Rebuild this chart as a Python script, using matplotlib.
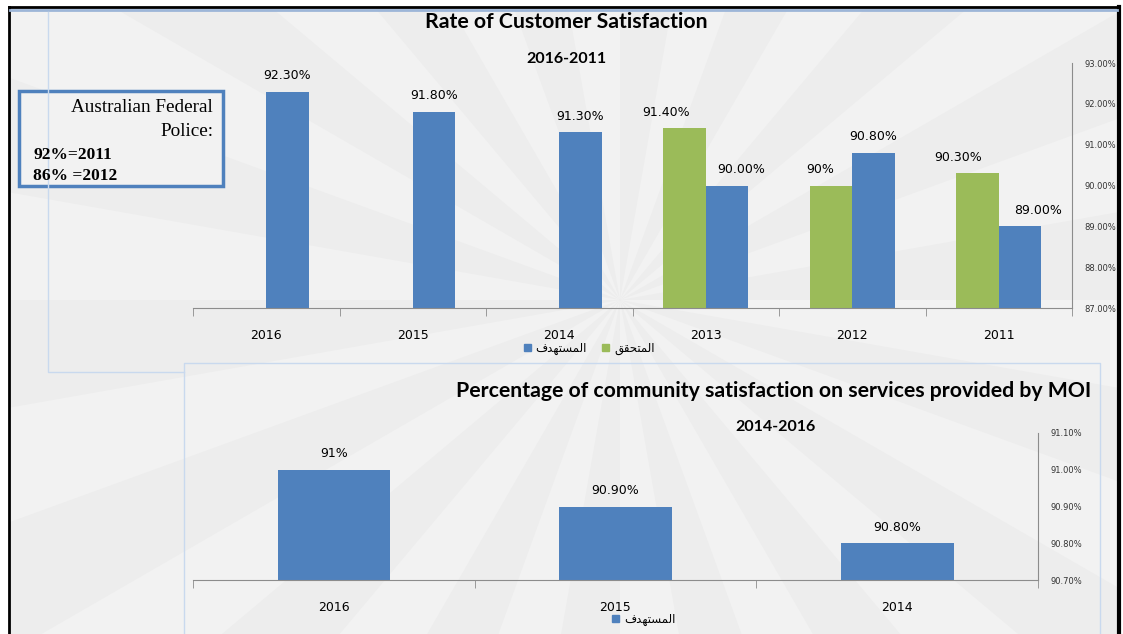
import numpy as np
import matplotlib.pyplot as plt
from matplotlib.patches import Patch, Rectangle, Polygon

W, H = 1123, 634

# top chart: rate of customer satisfaction
years_top = ['2016', '2015', '2014', '2013', '2012', '2011']
target_top = [92.3, 91.8, 91.3, 90.0, 90.8, 89.0]
achieved_top = [np.nan, np.nan, np.nan, 91.4, 90.0, 90.3]
target_top_labels = ['92.30%', '91.80%', '91.30%', '90.00%', '90.80%', '89.00%']
achieved_top_labels = ['', '', '', '91.40%', '90%', '90.30%']
top_yticks = [87, 88, 89, 90, 91, 92, 93]

# bottom chart: community satisfaction on MOI services
years_bot = ['2016', '2015', '2014']
target_bot = [91.0, 90.9, 90.8]
target_bot_labels = ['91%', '90.90%', '90.80%']
bot_yticks = [90.7, 90.8, 90.9, 91.0, 91.1]

# arabic legend labels, presentation forms in visual order
lbl_target = '\ufed1\ufeaa\ufeec\ufe98\ufeb4\ufee4\ufedf\ufe8d'    # المستهدف
lbl_achieved = '\ufed6\ufed8\ufea4\ufe98\ufee4\ufedf\ufe8d'        # المتحقق

BLUE = '#4f81bd'
GREEN = '#9bbb59'
GRID = '#8c8c8c'
FRAME = '#c9d9ee'


def box(x0, y0, x1, y1):
    # pixel box (top-left origin) -> figure rect
    return [x0 / W, 1 - y1 / H, (x1 - x0) / W, (y1 - y0) / H]


fig = plt.figure(figsize=(W / 100, H / 100), dpi=100)
fig.patch.set_facecolor('white')

# slide background with faint sunburst
bg = fig.add_axes([0, 0, 1, 1])
bg.set_xlim(0, W)
bg.set_ylim(H, 0)
bg.axis('off')
slide = Rectangle((9, 7), 1109, 640, fc='#ededed', ec='none')
bg.add_patch(slide)
cx, cy = 620, 300
n = 36
for k in range(0, n, 2):
    a0 = 2 * np.pi * k / n
    a1 = 2 * np.pi * (k + 1) / n
    r = 2000
    poly = Polygon([(cx, cy), (cx + r * np.cos(a0), cy + r * np.sin(a0)),
                    (cx + r * np.cos(a1), cy + r * np.sin(a1))],
                   closed=True, fc='#f2f2f2', ec='none')
    bg.add_patch(poly)
    poly.set_clip_path(slide)

# borders of the slide and chart frames
bg.plot([9, 1118], [7, 7], color='black', lw=2)
bg.plot([9, 9], [7, 634], color='black', lw=2)
bg.plot([1119, 1119], [7, 634], color='black', lw=3)
bg.plot([10, 1117], [10, 10], color='#9db6d8', lw=2)
bg.plot([48, 48, 184], [12, 372, 372], color=FRAME, lw=1)
bg.plot([184, 184, 1100, 1100], [634, 363, 363, 634], color=FRAME, lw=1)

# titles
bg.text(566, 22, 'Rate of Customer Satisfaction', ha='center', va='center',
        fontsize=15.3, fontweight='bold', family='Lato')
bg.text(566, 59, '2016-2011', ha='center', va='center',
        fontsize=11.5, fontweight='bold', family='Lato')
bg.text(774, 391, 'Percentage of community satisfaction on services provided by MOI',
        ha='center', va='center', fontsize=15.3, fontweight='bold', family='Lato')
bg.text(775, 427, '2014-2016', ha='center', va='center',
        fontsize=11.5, fontweight='bold', family='Lato')

# text box
bg.add_patch(Rectangle((19, 91), 204, 95, fc='#f2f2f2', ec=BLUE, lw=2.5))
bg.text(213, 107, 'Australian Federal', ha='right', va='center',
        fontsize=13.8, family='Liberation Serif')
bg.text(213, 131, 'Police:', ha='right', va='center',
        fontsize=13.8, family='Liberation Serif')
bg.text(33, 155, '92%=2011', ha='left', va='center',
        fontsize=12.5, fontweight='bold', family='Liberation Serif')
bg.text(33, 176, '86% =2012', ha='left', va='center',
        fontsize=12.5, fontweight='bold', family='Liberation Serif')


def style_axes(ax, n_cat, yticks, fmt):
    ax.set_facecolor('none')
    ax.set_xlim(-0.5, n_cat - 0.5)
    ax.set_ylim(yticks[0], yticks[-1])
    for s in ['left', 'top']:
        ax.spines[s].set_visible(False)
    for s in ['right', 'bottom']:
        ax.spines[s].set_color(GRID)
    ax.yaxis.tick_right()
    ax.set_yticks(yticks)
    ax.set_yticklabels([fmt.format(v) for v in yticks])
    ax.tick_params(axis='y', length=0, pad=9, labelsize=6, labelcolor='#333333')
    ax.set_xticks(np.arange(n_cat))
    ax.set_xticks(np.arange(n_cat + 1) - 0.5, minor=True)
    ax.tick_params(axis='x', which='major', length=0, pad=15, labelsize=9)
    ax.tick_params(axis='x', which='minor', length=6, color=GRID)


# top chart
ax1 = fig.add_axes(box(193, 63, 1072, 308))
x = np.arange(len(years_top))
w = 0.29
ax1.bar(x - w / 2, achieved_top, w, color=GREEN, label=lbl_achieved)
ax1.bar(x + w / 2, target_top, w, color=BLUE, label=lbl_target)
style_axes(ax1, len(years_top), top_yticks, '{:.2f}%')
ax1.set_xticklabels(years_top)

achieved_dx = [0, 0, 0, -13, -8, -14]
target_dx = [0, 0, 0, 10, 0, 13]
for i in range(len(years_top)):
    ax1.annotate(target_top_labels[i], (x[i] + w / 2, target_top[i]),
                 xytext=(target_dx[i], 7), textcoords='offset points',
                 ha='center', va='bottom', fontsize=9)
    if not np.isnan(achieved_top[i]):
        ax1.annotate(achieved_top_labels[i], (x[i] - w / 2, achieved_top[i]),
                     xytext=(achieved_dx[i], 7), textcoords='offset points',
                     ha='center', va='bottom', fontsize=9)

handles = [Patch(color=BLUE, label=lbl_target), Patch(color=GREEN, label=lbl_achieved)]
ax1.legend(handles=handles, loc='center', bbox_to_anchor=((589 - 193) / 879, -40 / 245),
           ncol=2, frameon=False, handlelength=0.6, handleheight=0.6,
           handletextpad=0.4, columnspacing=1.3, prop={'family': 'DejaVu Sans', 'size': 8.5})

# bottom chart
ax2 = fig.add_axes(box(193, 433, 1038, 580))
xb = np.arange(len(years_bot))
ax2.bar(xb, target_bot, 0.4, color=BLUE)
style_axes(ax2, len(years_bot), bot_yticks, '{:.2f}%')
ax2.set_xticklabels(years_bot)
for i in range(len(years_bot)):
    ax2.annotate(target_bot_labels[i], (xb[i], target_bot[i]),
                 xytext=(0, 7), textcoords='offset points',
                 ha='center', va='bottom', fontsize=9)
ax2.legend(handles=[Patch(color=BLUE, label=lbl_target)], loc='center',
           bbox_to_anchor=((644 - 193) / 845, -39 / 147), frameon=False,
           handlelength=0.6, handleheight=0.6, handletextpad=0.4,
           prop={'family': 'DejaVu Sans', 'size': 8.5})

fig.savefig('out.png', dpi=100)
